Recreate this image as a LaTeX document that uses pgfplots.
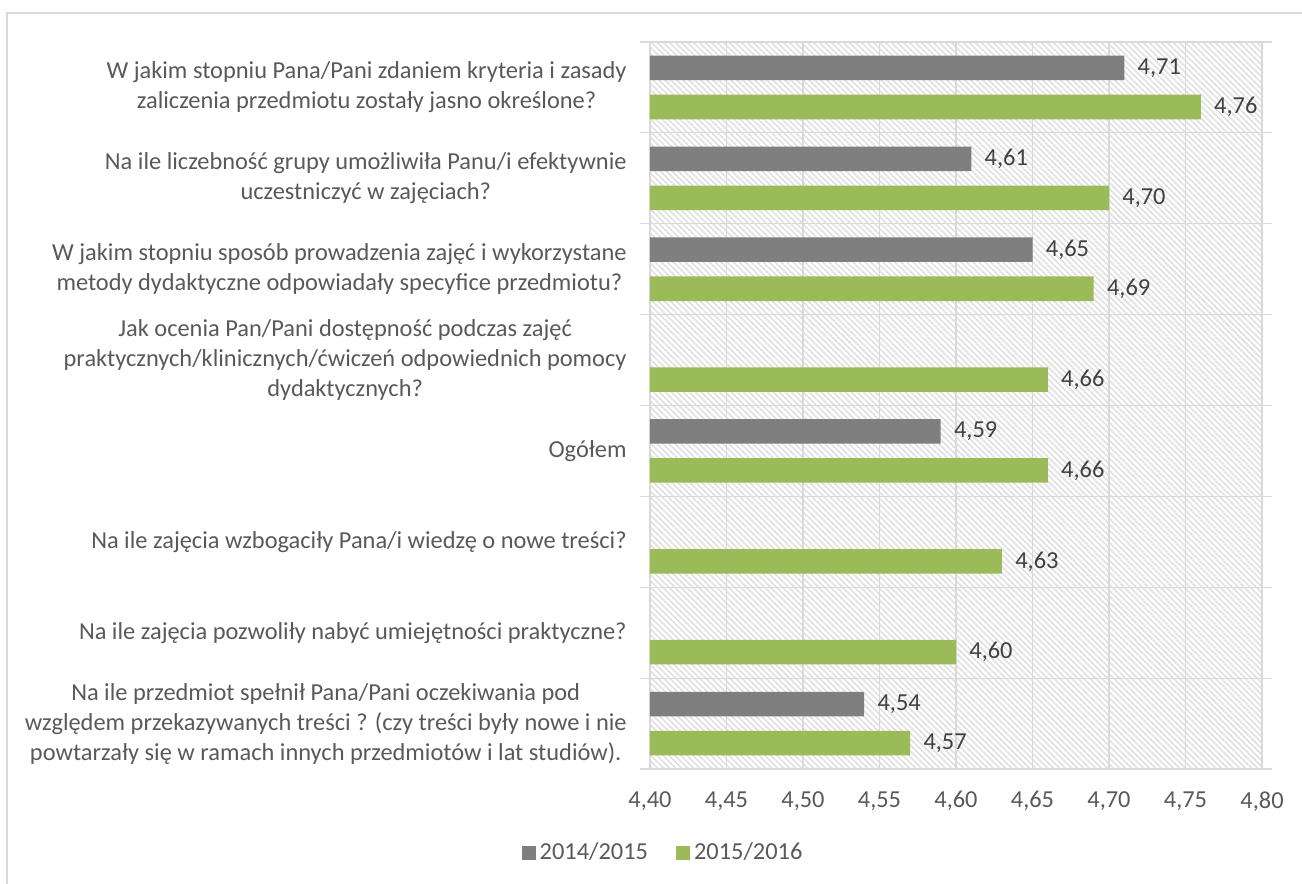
\documentclass[border=0pt]{standalone}
\usepackage{pgfplots}
\pgfplotsset{compat=1.18}
\usepackage{fontspec}
\setmainfont{Carlito}
\usetikzlibrary{patterns.meta}

\definecolor{barGray}{HTML}{7F7F7F}
\definecolor{barGreen}{HTML}{9BBB59}
\definecolor{txtGray}{HTML}{595959}
\definecolor{valGray}{HTML}{404040}
\definecolor{lineGray}{HTML}{D9D9D9}
\definecolor{hatchGray}{HTML}{E0E0E0}

\begin{document}
\begin{tikzpicture}[font=\fontsize{12.2}{15}\selectfont]
\useasboundingbox (0,0) rectangle (651pt,-442pt);
\draw[lineGray, line width=1pt] (3.5pt,-6.5pt) rectangle (660pt,-450pt);

\begin{axis}[
    at={(325pt,-21pt)}, anchor=north west,
    scale only axis,
    width=306pt, height=363.5pt,
    xmin=4.4, xmax=4.8,
    ymin=-0.5, ymax=7.5,
    y dir=reverse,
    xtick={4.40,4.45,...,4.801},
    ytick={0,...,7},
    minor ytick={-0.5,0.5,...,7.5},
    xmajorgrids=true,
    yminorgrids=true,
    grid style={lineGray, line width=0.6pt},
    minor grid style={lineGray, line width=0.6pt},
    axis line style={lineGray, line width=0.6pt},
    major tick length=0pt,
    minor tick length=5pt,
    tick align=outside,
    tick style={lineGray, line width=0.6pt},
    axis background/.style={pattern={Lines[angle=-45, distance=2.12pt, line width=0.8pt]}, pattern color=hatchGray},
    /pgf/number format/assume math mode=true,
    /pgf/number format/use comma,
    /pgf/number format/fixed,
    /pgf/number format/fixed zerofill,
    /pgf/number format/precision=2,
    xticklabel style={text=txtGray, inner sep=0pt, yshift=-11pt},
    yticklabel style={text=txtGray, align=center, inner sep=0pt, xshift=-11.5pt},
    yticklabels={
        {W jakim stopniu Pana/Pani zdaniem kryteria i zasady\\zaliczenia przedmiotu zostały jasno określone?},
        {Na ile liczebność grupy umożliwiła Panu/i efektywnie\\uczestniczyć w zajęciach?},
        {W jakim stopniu sposób prowadzenia zajęć i wykorzystane\\metody dydaktyczne odpowiadały specyfice przedmiotu?},
        {Jak ocenia Pan/Pani dostępność podczas zajęć\\praktycznych/klinicznych/ćwiczeń odpowiednich pomocy\\dydaktycznych?},
        {Ogółem},
        {Na ile zajęcia wzbogaciły Pana/i wiedzę o nowe treści?},
        {Na ile zajęcia pozwoliły nabyć umiejętności praktyczne?},
        {Na ile przedmiot spełnił Pana/Pani oczekiwania pod\\względem przekazywanych treści ? (czy treści były nowe i nie\\powtarzały się w ramach innych przedmiotów i lat studiów).}
    },
    xbar,
    bar width=0.27,
    nodes near coords,
    every node near coord/.append style={anchor=west, inner sep=0pt, xshift=6.5pt, text=valGray,
        /pgf/number format/use comma, /pgf/number format/fixed, /pgf/number format/fixed zerofill, /pgf/number format/precision=2},
    legend style={at={(0.023,-0.1155)}, anchor=center, draw=none, fill=none,
        legend columns=2, text=txtGray,
        /tikz/every even column/.append style={column sep=12pt}},
    legend image code/.code={\fill[#1] (0pt,-3.5pt) rectangle (7pt,3.5pt);},
]
\addplot[draw=none, fill=barGray, bar shift=-0.215] coordinates {
    (4.71,0) (4.61,1) (4.65,2) (4.59,4) (4.54,7)
};
\addplot[draw=none, fill=barGreen, bar shift=0.215] coordinates {
    (4.76,0) (4.70,1) (4.69,2) (4.66,3) (4.66,4) (4.63,5) (4.60,6) (4.57,7)
};
\legend{2014/2015,2015/2016}
\end{axis}
\end{tikzpicture}
\end{document}
